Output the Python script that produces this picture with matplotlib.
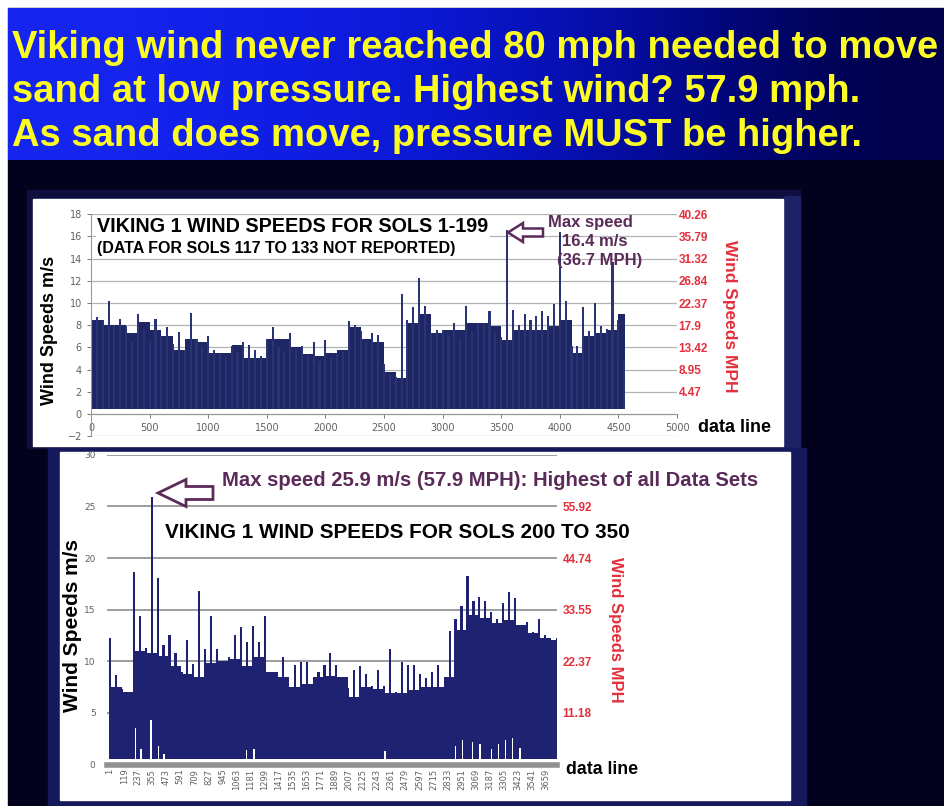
import numpy as np
import matplotlib.pyplot as plt
from matplotlib.patches import Rectangle, FancyArrow
from matplotlib.transforms import Affine2D

W, H = 944, 806

# ---- top chart: Viking 1, sols 1-199
# highest spike in every 50 data lines
top_bins = list(range(0, 4551, 50))
top_peak = [10.6, 8.7, 8.5, 10.2, 8.0, 8.6, 7.9, 6.5, 9.0, 7.6,
            6.5, 8.6, 7.0, 7.8, 6.3, 7.4, 5.8, 9.1, 6.8, 6.0,
            7.0, 5.8, 5.4, 5.0, 6.1, 5.6, 6.5, 6.2, 5.8, 5.2,
            6.8, 7.8, 6.0, 5.6, 7.3, 5.8, 6.1, 5.2, 6.5, 4.8,
            6.7, 5.0, 5.4, 5.6, 8.4, 8.0, 7.5, 6.5, 7.3, 7.1,
            4.5, 3.5, 3.3, 10.8, 8.5, 9.6, 12.3, 9.7, 7.3, 7.6,
            7.6, 7.1, 8.2, 6.8, 9.7, 7.4, 8.2, 8.2, 9.3, 7.3,
            6.9, 16.6, 9.4, 8.0, 9.0, 8.5, 8.8, 9.3, 8.8, 9.9,
            16.4, 10.2, 6.1, 6.1, 9.6, 7.5, 10.0, 7.9, 7.7, 13.7,
            8.5, 4.9]
# level of the dense mass, every 100 data lines (data stop at line 4560)
top_mass_x = list(range(0, 4501, 100))
top_mass = [8.5, 8.0, 8.0, 7.3, 8.3, 7.6, 7.0, 5.8, 6.8, 6.5,
            5.5, 5.5, 6.2, 5.0, 5.0, 6.8, 6.8, 6.0, 5.4, 5.2,
            5.5, 5.8, 7.8, 6.8, 6.5, 3.8, 3.2, 8.2, 9.0, 7.3,
            7.6, 7.6, 8.2, 8.2, 7.9, 6.7, 7.6, 7.6, 7.6, 7.9,
            8.5, 5.5, 7.0, 7.3, 7.6, 9.0]
top_last_line = 4560
top_xticks = [0, 500, 1000, 1500, 2000, 2500, 3000, 3500, 4000, 4500, 5000]
top_yticks = [-2, 0, 2, 4, 6, 8, 10, 12, 14, 16, 18]
top_mph_at = [2, 4, 6, 8, 10, 12, 14, 16, 18]
top_mph = ['4.47', '8.95', '13.42', '17.9', '22.37', '26.84', '31.32', '35.79', '40.26']

# ---- bottom chart: Viking 1, sols 200-350
bot_bins = list(range(0, 3751, 50))
bot_peak = [12.3, 8.7, 7.3, 6.3, 18.6, 14.4, 11.3, 25.9, 18.1, 11.6,
            12.5, 10.8, 9.0, 12.1, 9.7, 16.8, 11.2, 14.4, 11.2, 9.5,
            10.4, 12.5, 13.3, 11.9, 13.4, 11.9, 14.4, 7.0, 9.0, 10.4,
            7.0, 9.6, 9.9, 9.9, 7.6, 9.0, 9.6, 10.8, 9.6, 6.6,
            7.4, 9.2, 9.5, 8.8, 7.6, 9.2, 7.6, 11.2, 7.0, 9.9,
            9.6, 9.6, 8.8, 8.4, 9.0, 9.6, 7.3, 12.9, 14.1, 15.4,
            18.3, 15.8, 16.2, 15.8, 14.8, 14.1, 15.6, 16.7, 16.1, 13.5,
            13.8, 12.8, 14.1, 12.5, 11.9, 12.3]
bot_mass_x = list(range(0, 3701, 100))
bot_mass = [7.5, 7.0, 11.0, 10.8, 10.5, 9.5, 8.8, 8.5, 9.8, 10.0,
            10.2, 9.5, 10.4, 9.0, 8.5, 7.5, 7.8, 8.5, 8.6, 8.5,
            6.5, 7.5, 7.3, 6.9, 6.9, 7.2, 7.5, 7.5, 8.5, 13.0,
            14.5, 14.2, 13.7, 14.0, 13.5, 12.7, 12.3, 12.1]
# white gaps reaching up from the bottom
bot_gap_x = [217, 261, 345, 409, 454, 1148, 1209, 2308, 2900, 2960,
             3040, 3105, 3200, 3260, 3320, 3380, 3440]
bot_gap = [3.5, 1.5, 4.3, 1.8, 1.0, 1.4, 1.5, 1.3, 1.8, 2.4,
           2.2, 2.0, 1.5, 2.0, 2.4, 2.6, 1.6]
bot_xticks = [1, 119, 237, 355, 473, 591, 709, 827, 945, 1063, 1181, 1299,
              1417, 1535, 1653, 1771, 1889, 2007, 2125, 2243, 2361, 2479,
              2597, 2715, 2833, 2951, 3069, 3187, 3305, 3423, 3541, 3659]
bot_yticks = [0, 5, 10, 15, 20, 25, 30]
bot_mph_at = [5, 10, 15, 20, 25]
bot_mph = ['11.18', '22.37', '33.55', '44.74', '55.92']

title_lines = ['Viking wind never reached 80 mph needed to move',
               'sand at low pressure. Highest wind? 57.9 mph.',
               'As sand does move, pressure MUST be higher.']

RED = '#e3303c'
PURPLE = '#5a2a58'
GREY = '#606060'
SANS = ['Liberation Sans', 'DejaVu Sans']


def rect(l, t, r, b):
    return [l / W, 1 - b / H, (r - l) / W, (b - t) / H]


fig = plt.figure(figsize=(W / 100, H / 100), dpi=100)
fig.patch.set_facecolor('white')
px = Affine2D().scale(1 / W, -1 / H).translate(0, 1) + fig.transFigure

# ---- slide background
bg = fig.add_axes([0, 0, 1, 1])
bg.set_zorder(-1)
bg.add_patch(Rectangle((8, 8), W - 8, H - 8, color='#02021c', zorder=0))
grad = np.array([[22, 38, 240], [16, 30, 230], [10, 22, 205],
                 [4, 10, 150], [0, 0, 72]]) / 255.0
bg.imshow(grad[np.newaxis, :, :], extent=(8, W, 160, 8), aspect='auto',
          interpolation='bicubic', zorder=1)
bg.set_xlim(0, W)
bg.set_ylim(H, 0)
bg.axis('off')
bg.add_patch(Rectangle((27, 190), 773, 258, color='#0d0f3e', zorder=2))
bg.add_patch(Rectangle((784, 196), 16, 252, color='#1d2166', zorder=2))
bg.add_patch(Rectangle((33, 199), 750, 247, color='white', zorder=3))
bg.add_patch(Rectangle((48, 448), 758, 358, color='#15185a', zorder=2))
bg.add_patch(Rectangle((60, 452), 730, 348, color='white', zorder=3))

# title, shrunk to the width of the slide
renderer = fig.canvas.get_renderer()
titles = [fig.text(12, 58 + i * 44, line, transform=px, family=SANS,
                   weight='bold', fontsize=30, color='#fcfc22', va='baseline')
          for i, line in enumerate(title_lines)]
w0 = titles[0].get_window_extent(renderer).width
for t in titles:
    t.set_fontsize(30 * 926 / w0)

# ---- top chart
ax = fig.add_axes(rect(91, 214.3, 677, 436.1))
ax.set_facecolor('none')
mass_w = [min(100, top_last_line - x) for x in top_mass_x]
ax.bar(top_mass_x, np.array(top_mass) - 0.4, bottom=0.4, width=mass_w,
       align='edge', color='#1f2664', lw=0, zorder=2)
ax.bar(top_bins, np.array(top_peak) - 0.4, bottom=0.4, width=18,
       color='#2a3474', lw=0, zorder=2)
ax.set_xlim(0, 5000)
ax.set_ylim(-2, 18)
ax.set_xticks(top_xticks)
ax.set_yticks(top_yticks)
ax.yaxis.grid(True, color='#b4b4b4', lw=0.9)
ax.set_axisbelow(True)
for s in ['top', 'right']:
    ax.spines[s].set_visible(False)
ax.spines['bottom'].set_position(('data', 0))
ax.spines['bottom'].set_color('#9a9a9a')
ax.spines['left'].set_color('#9a9a9a')
ax.tick_params(axis='both', labelsize=7, colors=GREY, length=3, width=0.6)
tw = ax.twinx()
tw.set_ylim(-2, 18)
tw.set_yticks(top_mph_at)
tw.set_yticklabels(top_mph, color=RED, fontsize=8.5, weight='bold', family=SANS)
tw.tick_params(axis='y', length=0, labelcolor=RED, pad=1)
for s in tw.spines.values():
    s.set_visible(False)

fig.text(97, 227, 'VIKING 1 WIND SPEEDS FOR SOLS 1-199', transform=px,
         family=SANS, weight='bold', fontsize=14.2, va='center',
         bbox=dict(facecolor='white', edgecolor='none', pad=1))
fig.text(97, 249, '(DATA FOR SOLS 117 TO 133 NOT REPORTED)', transform=px,
         family=SANS, weight='bold', fontsize=11.5, va='center',
         bbox=dict(facecolor='white', edgecolor='none', pad=1))
fig.text(590, 222, 'Max speed', transform=px, family=SANS, weight='bold',
         fontsize=12, color=PURPLE, ha='center', va='center')
fig.text(595, 241, '16.4 m/s', transform=px, family=SANS, weight='bold',
         fontsize=12, color=PURPLE, ha='center', va='center')
fig.text(600, 260, '(36.7 MPH)', transform=px, family=SANS, weight='bold',
         fontsize=12, color=PURPLE, ha='center', va='center')
fig.add_artist(FancyArrow(543, 232.5, -35, 0, width=8, head_width=19,
                          head_length=15, length_includes_head=True,
                          transform=px, facecolor='white', edgecolor=PURPLE,
                          lw=1.8))
fig.text(50, 330, 'Wind Speeds m/s', transform=px, family=SANS, weight='bold',
         fontsize=13, rotation=90, ha='center', va='center')
fig.text(730, 316, 'Wind Speeds MPH', transform=px, family=SANS, weight='bold',
         fontsize=12.5, rotation=270, ha='center', va='center', color=RED)
fig.text(698, 427, 'data line', transform=px, family=SANS, weight='bold',
         fontsize=13, va='center')

# ---- bottom chart
bx = fig.add_axes(rect(106.7, 454.8, 557, 764.5))
bx.set_facecolor('none')
bx.bar(bot_mass_x, np.array(bot_mass) - 0.5, bottom=0.5, width=100,
       align='edge', color='#1f2270', lw=0, zorder=2)
bx.bar(bot_bins, np.array(bot_peak) - 0.5, bottom=0.5, width=18,
       color='#1f2270', lw=0, zorder=2)
bx.bar(bot_gap_x, np.array(bot_gap) - 0.5, bottom=0.5, width=12,
       color='white', lw=0, zorder=3)
bx.set_xlim(-27, 3751)
bx.set_ylim(0, 30)
bx.set_xticks(bot_xticks)
bx.set_xticklabels([str(v) for v in bot_xticks], rotation=90)
bx.set_yticks(bot_yticks)
bx.yaxis.grid(True, color='#8c8c8c', lw=1.2)
bx.set_axisbelow(True)
for s in ['top', 'right', 'left']:
    bx.spines[s].set_visible(False)
bx.spines['bottom'].set_color('#909090')
bx.spines['bottom'].set_linewidth(4)
bx.spines['bottom'].set_zorder(4)
bx.tick_params(axis='x', labelsize=6, colors=GREY, length=0, pad=3)
bx.tick_params(axis='y', labelsize=6.5, colors=GREY, length=0, pad=8)
tb = bx.twinx()
tb.set_ylim(0, 30)
tb.set_yticks(bot_mph_at)
tb.set_yticklabels(bot_mph, color=RED, fontsize=8.5, weight='bold', family=SANS)
tb.tick_params(axis='y', length=0, labelcolor=RED, pad=4)
for s in tb.spines.values():
    s.set_visible(False)

fig.text(222, 480, 'Max speed 25.9 m/s (57.9 MPH): Highest of all Data Sets',
         transform=px, family=SANS, weight='bold', fontsize=14.6,
         color=PURPLE, va='center')
fig.add_artist(FancyArrow(213, 493, -55, 0, width=13, head_width=27,
                          head_length=28, length_includes_head=True,
                          transform=px, facecolor='white', edgecolor=PURPLE,
                          lw=2))
fig.text(165, 533, 'VIKING 1 WIND SPEEDS FOR SOLS 200 TO 350', transform=px,
         family=SANS, weight='bold', fontsize=14.9, va='center')
fig.text(72, 625, 'Wind Speeds m/s', transform=px, family=SANS, weight='bold',
         fontsize=15, rotation=90, ha='center', va='center')
fig.text(615, 630, 'Wind Speeds MPH', transform=px, family=SANS, weight='bold',
         fontsize=12, rotation=270, ha='center', va='center', color=RED)
fig.text(566, 769, 'data line', transform=px, family=SANS, weight='bold',
         fontsize=12.8, va='center')

fig.savefig('out.png', dpi=100, facecolor=fig.get_facecolor())
